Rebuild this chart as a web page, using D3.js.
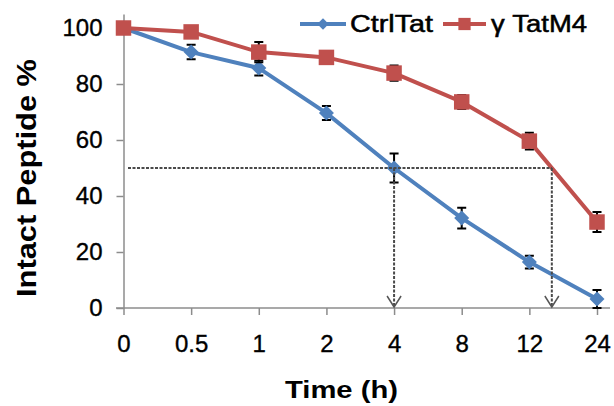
<!DOCTYPE html>
<html>
<head>
<meta charset="utf-8">
<script src="https://cdn.jsdelivr.net/npm/d3@7"></script>
<style>
  html, body { margin: 0; padding: 0; background: #fff; }
  svg { display: block; font-family: "Liberation Sans", Arial, sans-serif; }
</style>
</head>
<body>
<svg id="chart" width="614" height="406"></svg>
<script>
// Sampling times (h) and peptide remaining (%) for the two constructs
const categories = ["0", "0.5", "1", "2", "4", "8", "12", "24"];
const ctrlTat    = [100, 91.4, 85.7, 69.6, 50.0, 32.1, 16.4, 3.2];
const ctrlTatErr = [0, 2.6, 2.7, 2.5, 5.2, 3.7, 2.3, 3.2];
const tatM4      = [100, 98.6, 91.4, 89.5, 83.9, 73.6, 59.6, 30.7];
const tatM4Err   = [0, 1.0, 3.6, 0.8, 2.7, 2.5, 3.0, 3.6];
const yTicks     = [0, 20, 40, 60, 80, 100];
const seriesNames = ["CtrlTat", "γ TatM4"];
const halfLevel  = 50;

const blue = "#4f81bd", red = "#c0504d", axisGrey = "#8c8c8c";

const svg = d3.select("#chart");

const x = d3.scalePoint().domain(categories).range([123.5, 597]);
const y = d3.scaleLinear().domain([0, 105]).range([308, 14]);

// Axes
const yAxis = svg.append("g").attr("transform", "translate(123.5,0)")
  .call(d3.axisLeft(y).tickValues(yTicks).tickSize(7).tickSizeOuter(0).tickPadding(14));
const xAxis = svg.append("g").attr("transform", "translate(0,308)")
  .call(d3.axisBottom(x).tickSize(7).tickSizeOuter(0).tickPadding(20));
xAxis.select(".domain").attr("d", "M116,0H610");
[yAxis, xAxis].forEach(g => {
  g.selectAll(".domain, .tick line").attr("stroke", axisGrey).attr("stroke-width", 1.5);
  g.selectAll(".tick text").attr("fill", "#000").style("font-size", "24px")
    .attr("stroke", "#000").attr("stroke-width", 0.35)
    .attr("font-family", "Liberation Sans, Arial, sans-serif");
});
xAxis.selectAll(".tick text").attr("dy", "0.71em");

// Axis titles
svg.append("text")
  .attr("transform", "translate(36,178) rotate(-90)")
  .attr("text-anchor", "middle")
  .attr("textLength", 238).attr("lengthAdjust", "spacingAndGlyphs")
  .style("font-size", "28px").style("font-weight", "bold")
  .text("Intact Peptide %");
svg.append("text")
  .attr("x", 341.5).attr("y", 398)
  .attr("text-anchor", "middle")
  .attr("textLength", 113).attr("lengthAdjust", "spacingAndGlyphs")
  .style("font-size", "24px").style("font-weight", "bold")
  .text("Time (h)");

const line = d3.line().x((d, i) => x(categories[i])).y(d => y(d));

function drawSeries(values, errs, color, shape, size) {
  const g = svg.append("g");
  g.append("path").datum(values).attr("d", line)
    .attr("fill", "none").attr("stroke", color).attr("stroke-width", 4)
    .attr("stroke-linejoin", "round");
  // error bars
  const eb = g.selectAll(".err").data(values.map((v, i) => ({ v, e: errs[i], c: categories[i] })))
    .join("g").filter(d => d.e > 0);
  eb.append("path")
    .attr("d", d => {
      const cx = x(d.c), y1 = y(d.v + d.e), y2 = y(d.v - d.e);
      return `M${cx},${y1}V${y2}M${cx - 4.5},${y1}H${cx + 4.5}M${cx - 4.5},${y2}H${cx + 4.5}`;
    })
    .attr("stroke", "#000").attr("stroke-width", 2).attr("fill", "none");
  g.selectAll(".mk").data(values).join("path")
    .attr("transform", (d, i) => `translate(${x(categories[i])},${y(d)})`)
    .attr("d", d3.symbol().type(shape).size(size))
    .attr("fill", color);
}

const diamond = {
  draw(ctx, size) {
    const r = Math.sqrt(size) / 2;
    ctx.moveTo(0, -r); ctx.lineTo(r, 0); ctx.lineTo(0, r); ctx.lineTo(-r, 0); ctx.closePath();
  }
};

drawSeries(ctrlTat, ctrlTatErr, blue, diamond, 225);
drawSeries(tatM4, tatM4Err, red, d3.symbolSquare, 240);

// Half-life guides: horizontal at 50 % and drops to the time axis
function crossing(values) {
  for (let i = 0; i < values.length - 1; i++) {
    const a = values[i], b = values[i + 1];
    if (a >= halfLevel && b <= halfLevel) {
      const t = a === b ? 0 : (a - halfLevel) / (a - b);
      return x(categories[i]) + t * (x(categories[i + 1]) - x(categories[i]));
    }
  }
  return null;
}
const xCtrl = crossing(ctrlTat), xM4 = crossing(tatM4);
const yHalf = y(halfLevel), y0 = y(0);
const guides = svg.append("g").attr("fill", "none").attr("stroke", "#4a4a4a")
  .attr("stroke-width", 2);
guides.append("path").attr("d", `M128,${yHalf}H${xM4}`).attr("stroke-dasharray", "3,1.5");
[xCtrl, xM4].forEach(px => {
  guides.append("path").attr("d", `M${px},${yHalf}V${y0 - 1}`).attr("stroke-dasharray", "3,1.5");
  guides.append("path").attr("d", `M${px - 7},${y0 - 12}L${px},${y0 - 1}L${px + 7},${y0 - 12}`)
    .attr("stroke-width", 1.5).attr("stroke", "#555");
});

// Legend
const legend = svg.append("g");
const legendItems = [
  { name: seriesNames[0], color: blue, shape: diamond, size: 130, x1: 300, x2: 346, tx: 350, tl: 83 },
  { name: seriesNames[1], color: red, shape: d3.symbolSquare, size: 150, x1: 443, x2: 486, tx: 491, tl: 96 }
];
legendItems.forEach(it => {
  legend.append("line").attr("x1", it.x1).attr("x2", it.x2).attr("y1", 24).attr("y2", 24)
    .attr("stroke", it.color).attr("stroke-width", 4);
  legend.append("path").attr("transform", `translate(${(it.x1 + it.x2) / 2},24)`)
    .attr("d", d3.symbol().type(it.shape).size(it.size)).attr("fill", it.color);
  legend.append("text").attr("x", it.tx).attr("y", 32)
    .attr("textLength", it.tl).attr("lengthAdjust", "spacingAndGlyphs")
    .attr("stroke", "#000").attr("stroke-width", 0.5)
    .style("font-size", "23px").style("font-weight", "normal").text(it.name);
});
</script>
</body>
</html>
